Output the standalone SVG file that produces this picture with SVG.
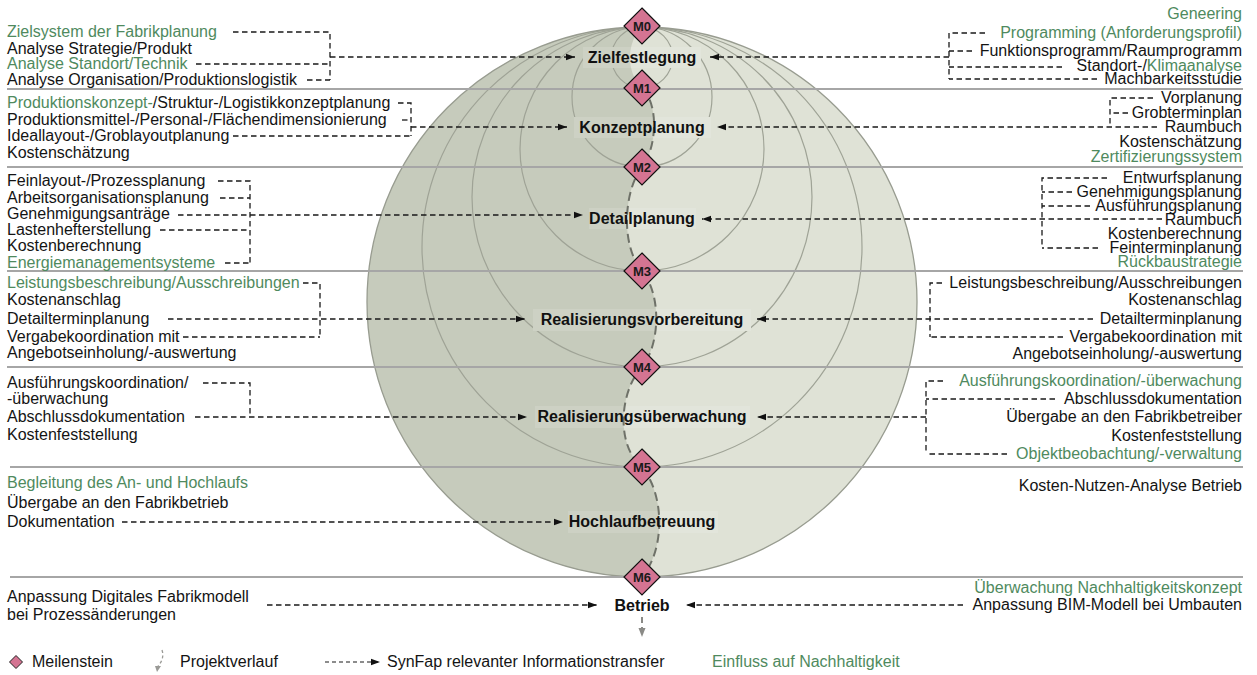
<svg xmlns="http://www.w3.org/2000/svg" width="1257" height="675" viewBox="0 0 1257 675">
  <style>
    text { font-family: "Liberation Sans", Arial, sans-serif; font-size: 16px; fill: #141414; }
    .g { fill: #4f8a5e; }
    .r { text-anchor: end; }
    .ph { font-weight: bold; text-anchor: middle; fill: #111; }
    .ms text { font-size: 13px; font-weight: bold; text-anchor: middle; fill: #1a1a1a; }
    .ms path { fill: #d47492; stroke: #111; stroke-width: 1.2; }
    .sep { stroke: #a6a6a6; stroke-width: 2; fill: none; }
    .arc { stroke: #9fa396; stroke-width: 1.2; fill: none; }
    .dash { stroke: #1a1a1a; stroke-width: 1.3; stroke-dasharray: 5.5 3.5; fill: none; }
    .arr { marker-end: url(#ah); }
  </style>
  <defs>
    <marker id="ah" markerUnits="userSpaceOnUse" markerWidth="10" markerHeight="8" refX="9" refY="4" orient="auto">
      <path d="M0,0.8 L9,4 L0,7.2 z" fill="#111"/>
    </marker>
    <marker id="ahg" markerUnits="userSpaceOnUse" markerWidth="10" markerHeight="10" refX="5" refY="9" orient="0">
      <path d="M1.5,0 L8.5,0 L5,9 z" fill="#8a8a86"/>
    </marker>
    <clipPath id="ball"><circle cx="642" cy="302" r="275"/></clipPath>
    <!-- areas kept free of arcs behind the phase names -->
    <clipPath id="labelboxes">
      <rect x="583" y="47" width="118" height="21"/>
      <rect x="574" y="117" width="137" height="21"/>
      <rect x="589" y="208" width="107" height="21"/>
      <rect x="533" y="309" width="218" height="22"/>
      <rect x="535" y="406" width="215" height="22"/>
      <rect x="568" y="511" width="150" height="22"/>
    </clipPath>
    <g id="ballfill">
      <circle cx="642" cy="302" r="275" fill="#dfe2d6"/>
      <path d="M642,27 C628,40 624,70 642,88 C660,105 656,150 642,167 C624,190 620,245 642,271 C662,295 660,345 642,367 C620,390 615,445 642,467 C665,495 665,550 642,577 A275,275 0 0 1 642,27 Z" fill="#c6cbbc"/>
    </g>
  </defs>

  <!-- sphere: light right half, darker left half split along the project path -->
  <g id="sphere">
    <use href="#ballfill"/>
    <g clip-path="url(#ball)">
      <circle class="arc" cx="642" cy="57.5" r="30.5"/>
      <circle class="arc" cx="642" cy="97" r="70"/>
      <circle class="arc" cx="642" cy="149" r="122"/>
      <circle class="arc" cx="642" cy="197" r="170"/>
      <circle class="arc" cx="642" cy="247" r="220"/>
    </g>
    <circle cx="642" cy="302" r="275" fill="none" stroke="#989c90" stroke-width="1.3"/>
    <g clip-path="url(#labelboxes)">
      <use href="#ballfill"/>
      <rect x="0" y="0" width="1257" height="675" fill="#ffffff" opacity="0.12"/>
    </g>
  </g>

  <!-- phase separators -->
  <g id="separators">
    <line class="sep" x1="7" y1="89" x2="1243" y2="89"/>
    <line class="sep" x1="7" y1="167" x2="1243" y2="167"/>
    <line class="sep" x1="7" y1="271" x2="1243" y2="271"/>
    <line class="sep" x1="7" y1="367" x2="1243" y2="367"/>
    <line class="sep" x1="10" y1="467" x2="1243" y2="467"/>
    <line class="sep" x1="10" y1="577" x2="1243" y2="577"/>
  </g>

  <!-- project course -->
  <g id="projektverlauf">
    <path d="M642,88 C660,105 656,150 642,167 C624,190 620,245 642,271 C662,295 660,345 642,367 C620,390 615,445 642,467 C665,495 665,550 642,577" fill="none" stroke="#6e7168" stroke-width="2" stroke-dasharray="9 5"/>
    <path d="M642,617 V637" fill="none" stroke="#8a8a86" stroke-width="2" stroke-dasharray="6 4" marker-end="url(#ahg)"/>
  </g>

  <!-- information transfer connectors -->
  <g id="connectors">
    <!-- Zielfestlegung -->
    <path class="dash" d="M233,32 H330 V80"/>
    <path class="dash" d="M196,64 H330"/>
    <path class="dash" d="M307,80 H330"/>
    <path class="dash arr" d="M330,57 H575"/>
    <path class="dash" d="M985,33 H949 V79"/>
    <path class="dash" d="M972,51 H949"/>
    <path class="dash" d="M1062,67 H949"/>
    <path class="dash" d="M1097,79 H949"/>
    <path class="dash arr" d="M949,57 H710"/>
    <!-- Konzeptplanung -->
    <path class="dash" d="M398,103 H411 V136"/>
    <path class="dash" d="M402,120 H411"/>
    <path class="dash" d="M233,136 H411"/>
    <path class="dash arr" d="M411,127 H567"/>
    <path class="dash" d="M1153,98 H1110 V127"/>
    <path class="dash" d="M1128,113 H1110"/>
    <path class="dash arr" d="M1157,127 H717"/>
    <!-- Detailplanung -->
    <path class="dash" d="M218,181 H250 V263"/>
    <path class="dash" d="M220,198 H250"/>
    <path class="dash" d="M160,230 H250"/>
    <path class="dash" d="M225,263 H250"/>
    <path class="dash arr" d="M178,215 H583"/>
    <path class="dash" d="M1107,178 H1042 V248"/>
    <path class="dash" d="M1072,192 H1042"/>
    <path class="dash" d="M1090,206 H1042"/>
    <path class="dash" d="M1098,248 H1042"/>
    <path class="dash arr" d="M1162,219 H702"/>
    <!-- Realisierungsvorbereitung -->
    <path class="dash" d="M303,283 H320 V337"/>
    <path class="dash" d="M183,337 H320"/>
    <path class="dash arr" d="M168,319 H525"/>
    <path class="dash" d="M942,283 H930 V337"/>
    <path class="dash" d="M1063,337 H930"/>
    <path class="dash arr" d="M1093,319 H757"/>
    <!-- Realisierungsueberwachung -->
    <path class="dash" d="M203,383 H250 V417"/>
    <path class="dash arr" d="M195,417 H527"/>
    <path class="dash" d="M943,381 H926 V454"/>
    <path class="dash" d="M1055,399 H926"/>
    <path class="dash" d="M1007,454 H926"/>
    <path class="dash arr" d="M926,417 H757"/>
    <!-- Hochlaufbetreuung -->
    <path class="dash arr" d="M122,522 H563"/>
    <!-- Betrieb -->
    <path class="dash arr" d="M267,605 H597"/>
    <path class="dash arr" d="M963,605 H686"/>
  </g>

  <!-- phase names -->
  <g id="phase-zielfestlegung"><text class="ph" x="642" y="63">Zielfestlegung</text></g>
  <g id="phase-konzeptplanung"><text class="ph" x="642" y="133">Konzeptplanung</text></g>
  <g id="phase-detailplanung"><text class="ph" x="642" y="224">Detailplanung</text></g>
  <g id="phase-realisierungsvorbereitung"><text class="ph" x="642" y="325">Realisierungsvorbereitung</text></g>
  <g id="phase-realisierungsueberwachung"><text class="ph" x="642" y="422">Realisierungsüberwachung</text></g>
  <g id="phase-hochlaufbetreuung"><text class="ph" x="642" y="527">Hochlaufbetreuung</text></g>
  <g id="phase-betrieb"><text class="ph" x="642" y="611">Betrieb</text></g>

  <!-- milestones -->
  <g id="m0" class="ms"><path d="M642,8 L660,26 L642,44 L624,26 Z"/><text x="642" y="30.5">M0</text></g>
  <g id="m1" class="ms"><path d="M642,70 L660,88 L642,106 L624,88 Z"/><text x="642" y="92.5">M1</text></g>
  <g id="m2" class="ms"><path d="M642,149 L660,167 L642,185 L624,167 Z"/><text x="642" y="171.5">M2</text></g>
  <g id="m3" class="ms"><path d="M642,253 L660,271 L642,289 L624,271 Z"/><text x="642" y="275.5">M3</text></g>
  <g id="m4" class="ms"><path d="M642,349 L660,367 L642,385 L624,367 Z"/><text x="642" y="371.5">M4</text></g>
  <g id="m5" class="ms"><path d="M642,449 L660,467 L642,485 L624,467 Z"/><text x="642" y="471.5">M5</text></g>
  <g id="m6" class="ms"><path d="M642,559 L660,577 L642,595 L624,577 Z"/><text x="642" y="581.5">M6</text></g>

  <!-- factory planning side (left) -->
  <g id="left-zielfestlegung">
    <text x="7" y="37" class="g">Zielsystem der Fabrikplanung</text>
    <text x="7" y="54">Analyse Strategie/Produkt</text>
    <text x="7" y="69" class="g">Analyse Standort/Technik</text>
    <text x="7" y="85">Analyse Organisation/Produktionslogistik</text>
  </g>
  <g id="left-konzeptplanung">
    <text x="7" y="108"><tspan class="g">Produktionskonzept-</tspan>/Struktur-/Logistikkonzeptplanung</text>
    <text x="7" y="125">Produktionsmittel-/Personal-/Flächendimensionierung</text>
    <text x="7" y="141">Ideallayout-/Groblayoutplanung</text>
    <text x="7" y="158">Kostenschätzung</text>
  </g>
  <g id="left-detailplanung">
    <text x="7" y="186">Feinlayout-/Prozessplanung</text>
    <text x="7" y="203">Arbeitsorganisationsplanung</text>
    <text x="7" y="219">Genehmigungsanträge</text>
    <text x="7" y="235">Lastenhefterstellung</text>
    <text x="7" y="251">Kostenberechnung</text>
    <text x="7" y="268" class="g">Energiemanagementsysteme</text>
  </g>
  <g id="left-realisierungsvorbereitung">
    <text x="7" y="288" class="g">Leistungsbeschreibung/Ausschreibungen</text>
    <text x="7" y="305">Kostenanschlag</text>
    <text x="7" y="324">Detailterminplanung</text>
    <text x="7" y="342">Vergabekoordination mit</text>
    <text x="7" y="358">Angebotseinholung/-auswertung</text>
  </g>
  <g id="left-realisierungsueberwachung">
    <text x="7" y="388">Ausführungskoordination/</text>
    <text x="7" y="404">-überwachung</text>
    <text x="7" y="422">Abschlussdokumentation</text>
    <text x="7" y="440">Kostenfeststellung</text>
  </g>
  <g id="left-hochlaufbetreuung">
    <text x="7" y="488" class="g">Begleitung des An- und Hochlaufs</text>
    <text x="7" y="508">Übergabe an den Fabrikbetrieb</text>
    <text x="7" y="527">Dokumentation</text>
  </g>
  <g id="left-betrieb">
    <text x="7" y="602">Anpassung Digitales Fabrikmodell</text>
    <text x="7" y="620">bei Prozessänderungen</text>
  </g>

  <!-- building planning side (right) -->
  <g id="right-zielfestlegung">
    <text x="1242" y="19" class="r g">Geneering</text>
    <text x="1242" y="38" class="r g">Programming (Anforderungsprofil)</text>
    <text x="1242" y="56" class="r">Funktionsprogramm/Raumprogramm</text>
    <text x="1242" y="71" class="r">Standort-/<tspan class="g">Klimaanalyse</tspan></text>
    <text x="1242" y="84" class="r">Machbarkeitsstudie</text>
  </g>
  <g id="right-konzeptplanung">
    <text x="1242" y="103" class="r">Vorplanung</text>
    <text x="1242" y="118" class="r">Grobterminplan</text>
    <text x="1242" y="132" class="r">Raumbuch</text>
    <text x="1242" y="147" class="r">Kostenschätzung</text>
    <text x="1242" y="162" class="r g">Zertifizierungssystem</text>
  </g>
  <g id="right-detailplanung">
    <text x="1242" y="183" class="r">Entwurfsplanung</text>
    <text x="1242" y="197" class="r">Genehmigungsplanung</text>
    <text x="1242" y="211" class="r">Ausführungsplanung</text>
    <text x="1242" y="225" class="r">Raumbuch</text>
    <text x="1242" y="239" class="r">Kostenberechnung</text>
    <text x="1242" y="253" class="r">Feinterminplanung</text>
    <text x="1242" y="267" class="r g">Rückbaustrategie</text>
  </g>
  <g id="right-realisierungsvorbereitung">
    <text x="1242" y="288" class="r">Leistungsbeschreibung/Ausschreibungen</text>
    <text x="1242" y="305" class="r">Kostenanschlag</text>
    <text x="1242" y="324" class="r">Detailterminplanung</text>
    <text x="1242" y="342" class="r">Vergabekoordination mit</text>
    <text x="1242" y="359" class="r">Angebotseinholung/-auswertung</text>
  </g>
  <g id="right-realisierungsueberwachung">
    <text x="1242" y="386" class="r g">Ausführungskoordination/-überwachung</text>
    <text x="1242" y="404" class="r">Abschlussdokumentation</text>
    <text x="1242" y="422" class="r">Übergabe an den Fabrikbetreiber</text>
    <text x="1242" y="441" class="r">Kostenfeststellung</text>
    <text x="1242" y="459" class="r g">Objektbeobachtung/-verwaltung</text>
  </g>
  <g id="right-hochlaufbetreuung">
    <text x="1242" y="491" class="r">Kosten-Nutzen-Analyse Betrieb</text>
  </g>
  <g id="right-betrieb">
    <text x="1242" y="593" class="r g">Überwachung Nachhaltigkeitskonzept</text>
    <text x="1242" y="610" class="r">Anpassung BIM-Modell bei Umbauten</text>
  </g>

  <!-- legend -->
  <g id="legend">
    <path d="M16,655.5 L22.5,662 L16,668.5 L9.5,662 Z" fill="#d47492" stroke="#222" stroke-width="1"/>
    <text x="32" y="667">Meilenstein</text>
    <path d="M162,650 C164,656 162,662 158,666" fill="none" stroke="#9a9a96" stroke-width="1.3" stroke-dasharray="3 2.5"/>
    <path d="M155,666 L161,666 L157,672 Z" fill="#9a9a96"/>
    <text x="180" y="667">Projektverlauf</text>
    <path class="dash arr" d="M325,662 H380" style="stroke-dasharray:4 3;stroke-width:1.1"/>
    <text x="387" y="667">SynFap relevanter Informationstransfer</text>
    <text x="712" y="667" class="g">Einfluss auf Nachhaltigkeit</text>
  </g>
</svg>
